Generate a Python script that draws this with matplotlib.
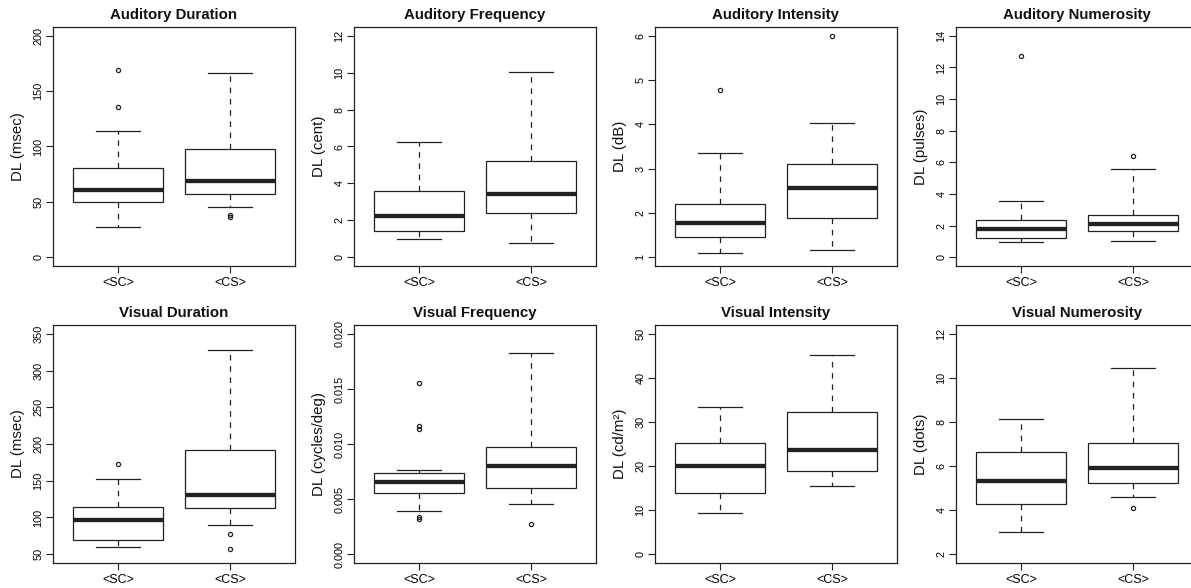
import numpy as np
import matplotlib
matplotlib.use('Agg')
import matplotlib.pyplot as plt

plt.rcParams['font.family'] = ['Liberation Sans', 'DejaVu Sans']

# panel info
titles = ['Auditory Duration', 'Auditory Frequency', 'Auditory Intensity', 'Auditory Numerosity',
          'Visual Duration', 'Visual Frequency', 'Visual Intensity', 'Visual Numerosity']
ylabels = ['DL (msec)', 'DL (cent)', 'DL (dB)', 'DL (pulses)',
           'DL (msec)', 'DL (cycles/deg)', 'DL (cd/m²)', 'DL (dots)']
groups = ['<SC>', '<CS>']
yranges = [(0, 200), (0, 12), (1, 6), (0, 14), (50, 350), (0, 0.02), (0, 50), (2, 12)]
ysteps = [50, 2, 1, 2, 50, 0.005, 10, 2]

# <SC> boxes
sc_lo = [27.4, 0.98, 1.10, 0.93, 59.9, 0.00395, 9.4, 3.02]
sc_q1 = [49.4, 1.43, 1.445, 1.22, 69.4, 0.00557, 13.8, 4.26]
sc_med = [60.8, 2.22, 1.77, 1.81, 96.5, 0.00654, 19.95, 5.33]
sc_q3 = [81.0, 3.60, 2.21, 2.38, 114.6, 0.00741, 25.2, 6.64]
sc_hi = [114, 6.24, 3.36, 3.56, 152, 0.00768, 33.4, 8.13]
sc_out = [[136, 169], [], [4.77], [12.73], [172.9],
          [0.0032, 0.0034, 0.0114, 0.0116, 0.0155], [], []]

# <CS> boxes
cs_lo = [45.5, 0.78, 1.17, 1.05, 90.2, 0.00458, 15.5, 4.58]
cs_q1 = [57.5, 2.40, 1.89, 1.67, 112.8, 0.00605, 18.9, 5.24]
cs_med = [69.0, 3.45, 2.56, 2.11, 130.9, 0.00798, 23.7, 5.90]
cs_q3 = [97.6, 5.22, 3.11, 2.66, 191.9, 0.00973, 32.15, 7.03]
cs_hi = [166, 10.05, 4.04, 5.59, 328.3, 0.01822, 45.3, 10.43]
cs_out = [[36, 38], [], [6.0], [6.43], [78, 57.7], [0.0027], [], [4.08]]

INK = '#222222'


def box_panel(ax, i):
    stats = [
        dict(whislo=sc_lo[i], q1=sc_q1[i], med=sc_med[i], q3=sc_q3[i], whishi=sc_hi[i], fliers=sc_out[i]),
        dict(whislo=cs_lo[i], q1=cs_q1[i], med=cs_med[i], q3=cs_q3[i], whishi=cs_hi[i], fliers=cs_out[i]),
    ]
    ax.bxp(stats, positions=[1, 2], widths=0.8, patch_artist=True, showfliers=True,
           boxprops=dict(facecolor='white', edgecolor=INK, linewidth=0.9),
           medianprops=dict(color=INK, linewidth=3.1, solid_capstyle='butt'),
           whiskerprops=dict(color=INK, linewidth=0.9, linestyle=(0, (4.5, 4.5))),
           capprops=dict(color=INK, linewidth=0.9),
           flierprops=dict(marker='o', markersize=3.0, markerfacecolor='none',
                           markeredgecolor=INK, markeredgewidth=0.9, linestyle='none'))

    lo, hi = yranges[i]
    ext = (hi - lo) * 0.04
    ax.set_ylim(lo - ext, hi + ext)
    ax.set_xlim(0.42, 2.58)
    ticks = np.arange(lo, hi + ysteps[i] / 2, ysteps[i])
    ax.set_yticks(ticks)
    if i == 5:
        ax.set_yticklabels(['%.3f' % t for t in ticks])
    else:
        ax.set_yticklabels(['%d' % round(t) for t in ticks])
    ax.set_xticks([1, 2])
    ax.set_xticklabels(groups)

    for s in ax.spines.values():
        s.set_color(INK)
        s.set_linewidth(0.9)
    ax.tick_params(axis='y', direction='out', length=5, width=0.8, color=INK,
                   labelsize=7.8, pad=2, labelrotation=90)
    for lab in ax.get_yticklabels():
        lab.set_verticalalignment('center')
    ax.tick_params(axis='x', direction='out', length=5, width=0.8, color=INK,
                   labelsize=9, pad=3)

    ax.set_title(titles[i], fontsize=10.8, fontweight='bold', pad=6, color='#111111')
    ax.set_ylabel(ylabels[i], fontsize=10.8, color='#111111')
    ax.yaxis.set_label_coords(-0.116, 0.5)


fig = plt.figure(figsize=(11.91, 5.88), dpi=100)
W, H = 1191.0, 588.0
lefts = [53, 354, 655, 956]
rows = [(27, 266), (325, 563)]
for i in range(8):
    top, bot = rows[i // 4]
    ax = fig.add_axes([lefts[i % 4] / W, 1 - bot / H, 242 / W, (bot - top) / H])
    box_panel(ax, i)

fig.savefig('out.png', dpi=100)
